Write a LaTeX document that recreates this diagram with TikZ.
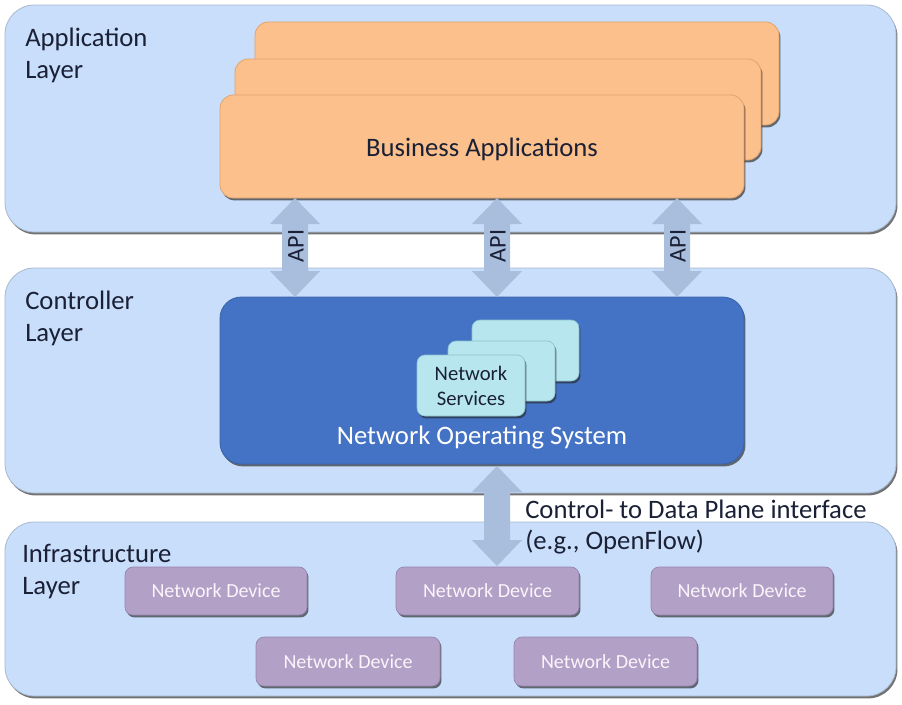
\documentclass[tikz,border=0pt]{standalone}
\usepackage{fontspec}
\setmainfont{Carlito}
\usetikzlibrary{shadows,fit,calc}
\definecolor{layerfill}{HTML}{C9DEFA}
\definecolor{layerdraw}{HTML}{A9B9CF}
\definecolor{bizfill}{HTML}{FBC08C}
\definecolor{bizdraw}{HTML}{E3A26A}
\definecolor{nosfill}{HTML}{4472C4}
\definecolor{nosdraw}{HTML}{3A62A8}
\definecolor{svcfill}{HTML}{B7E6EF}
\definecolor{svcdraw}{HTML}{8CC3CF}
\definecolor{devfill}{HTML}{B2A0C7}
\definecolor{devdraw}{HTML}{9684AE}
\definecolor{apicol}{HTML}{A9BEDD}
\definecolor{txt}{HTML}{1A2035}
\definecolor{devtxt}{HTML}{FBF4FA}
\tikzset{
  shad/.style={drop shadow={shadow xshift=1.1pt, shadow yshift=-1.8pt, fill=black!85, opacity=0.65}},
  layerbox/.style={fill=layerfill, draw=layerdraw, line width=0.6pt, rounded corners=22pt, inner sep=0pt, shad},
  bizbox/.style={fill=bizfill, draw=bizdraw, line width=0.6pt, rounded corners=10pt, inner sep=0pt, shad},
  nosbox/.style={fill=nosfill, draw=nosdraw, line width=0.6pt, rounded corners=16pt, inner sep=0pt, shad},
  svcbox/.style={fill=svcfill, draw=svcdraw, line width=0.5pt, rounded corners=6pt, inner sep=0pt, shad},
  devbox/.style={fill=devfill, draw=devdraw, line width=0.5pt, rounded corners=6pt, inner sep=0pt, shad},
  layerlabel/.style={anchor=north west, inner sep=0pt, align=left, text=txt, font=\fontsize{20}{24}\selectfont},
  bigtext/.style={inner sep=0pt, font=\fontsize{20}{24}\selectfont},
  devtext/.style={text=devtxt, inner sep=0pt, font=\fontsize{15}{18}\selectfont},
  apitext/.style={inner sep=0pt, rotate=90, text=txt, font=\fontsize{18}{20}\selectfont},
}
% fat double arrow between two named coordinates (same x), tips at both ends
\newcommand\fatarrow[2]{%
  \fill[apicol] let \p1=(#1), \p2=(#2) in
    (\x1,\y1) -- (\x1+18.75pt,\y1-19.5pt) -- (\x1+9.75pt,\y1-19.5pt)
    -- (\x1+9.75pt,\y2+19.5pt) -- (\x1+18.75pt,\y2+19.5pt) -- (\x2,\y2)
    -- (\x1-18.75pt,\y2+19.5pt) -- (\x1-9.75pt,\y2+19.5pt)
    -- (\x1-9.75pt,\y1-19.5pt) -- (\x1-18.75pt,\y1-19.5pt) -- cycle;}
\begin{document}
\begin{tikzpicture}[x=0.75pt,y=-0.75pt]
\useasboundingbox (0,0) rectangle (902,704);

% layers
\node[layerbox, fit={(5,5) (896,232)}] (applayer) {};
\node[layerbox, fit={(5,268) (896,493)}] (ctrllayer) {};
\node[layerbox, fit={(5,522) (896,696)}] (infralayer) {};

\node[layerlabel] (applabel) at (25,28) {Application\\Layer};
\node[layerlabel] (ctrllabel) at (25,291) {Controller\\Layer};
\node[layerlabel] (infralabel) at (22,544) {Infrastructure\\Layer};

% business applications stack
\node[bizbox, fit={(255,22) (779,125)}] (biz3) {};
\node[bizbox, fit={(235,59) (761,160)}] (biz2) {};
\node[bizbox, fit={(220,95) (744,198)}] (biz) {};
\node[bigtext, text=txt] (biztext) at (482,149) {Business Applications};

% network operating system
\node[nosbox, fit={(220,297) (744,464)}] (nos) {};
\node[svcbox, fit={(472,320) (579,381)}] (svc3) {};
\node[svcbox, fit={(448,341) (555,401)}] (svc2) {};
\node[svcbox, fit={(417,355) (525,416)}] (svc) {};
\node[text=txt, inner sep=0pt, align=center, font=\fontsize{15.5}{18.75}\selectfont] (svctext) at (471,386) {Network\\Services};
\node[bigtext, text=white] (nostext) at (482,438) {Network Operating System};

% devices
\node[devbox, fit={(125,567) (307,615)}] (dev1) {};
\node[devbox, fit={(396,567) (579,615)}] (dev2) {};
\node[devbox, fit={(651,567) (833,615)}] (dev3) {};
\node[devbox, fit={(256,637) (440,686)}] (dev4) {};
\node[devbox, fit={(514,637) (697,686)}] (dev5) {};
\node[devtext] (dev1t) at (dev1.center) {Network Device};
\node[devtext] (dev2t) at (dev2.center) {Network Device};
\node[devtext] (dev3t) at (dev3.center) {Network Device};
\node[devtext] (dev4t) at (dev4.center) {Network Device};
\node[devtext] (dev5t) at (dev5.center) {Network Device};

% API arrows
\coordinate (a1t) at (295,198);
\coordinate (a1b) at (295,297);
\coordinate (a2t) at (497,198);
\coordinate (a2b) at (497,297);
\coordinate (a3t) at (677,198);
\coordinate (a3b) at (677,297);
\fatarrow{a1t}{a1b}
\fatarrow{a2t}{a2b}
\fatarrow{a3t}{a3b}
\node[apitext] (api1) at (296,246) {API};
\node[apitext] (api2) at (498,246) {API};
\node[apitext] (api3) at (678,246) {API};

% control-data plane arrow
\coordinate (cdt) at (497,466);
\coordinate (cdb) at (497,566);
\fatarrow{cdt}{cdb}
\node[anchor=north west, inner sep=0pt, align=left, text=txt, font=\fontsize{20}{23.25}\selectfont] (cdtext) at (525,500) {Control- to Data Plane interface\\(e.g., OpenFlow)};
\end{tikzpicture}
\end{document}
